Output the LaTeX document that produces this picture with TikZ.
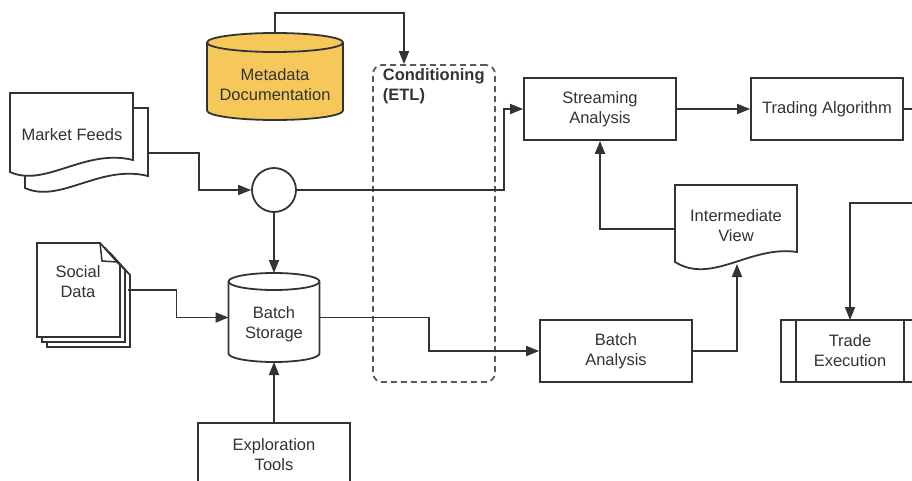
\documentclass[tikz,border=0pt]{standalone}
\usepackage{fontspec}
\setmainfont{Liberation Sans}
\usetikzlibrary{arrows.meta,calc}
\definecolor{ink}{RGB}{51,51,51}
\definecolor{metafill}{RGB}{246,200,90}
\definecolor{etlgray}{RGB}{90,90,90}
\begin{document}
\begin{tikzpicture}[x=1pt,y=-1pt,
  line width=1.8pt, color=ink, line join=miter,
  arr/.style={-{Triangle[length=13pt,width=10pt]}},
  txt/.style={align=center, inner sep=0pt, font=\fontsize{16.5}{20}\selectfont},
  box/.style={draw, fill=white, minimum width=152pt, minimum height=62pt, txt},
  port/.style={inner sep=0pt, outer sep=0pt, draw=none}]
\path[use as bounding box] (0,0) rectangle (912,481);
\clip (0,0) rectangle (912,481);

% ---------- shapes ----------
% Market feeds: two stacked documents
\draw[fill=white] (25,108) -- (148,108) -- (148,176)
  .. controls (100,164) and (60,204) .. (25,188) -- cycle;
\draw[fill=white] (10,93) -- (133,93) -- (133,160)
  .. controls (85,148) and (45,188) .. (10,172) -- cycle;

% Social data: three stacked pages with folded corner
\foreach \d in {10,5,0}
  \draw[fill=white] ({37+\d},{243+\d}) -- ({100+\d},{243+\d}) -- ({120+\d},{265+\d})
    -- ({120+\d},{337+\d}) -- ({37+\d},{337+\d}) -- cycle;
\draw[line width=1.5pt] (100,243) -- (102,261) -- (117,262);

% Metadata store (cylinder)
\draw[fill=metafill] (207,42.5) -- (207,110.5)
  arc[start angle=180,end angle=0,x radius=68,y radius=9.5] -- (343,42.5)
  arc[start angle=0,end angle=-180,x radius=68,y radius=9.5] -- cycle;
\draw (207,42.5) arc[start angle=180,end angle=0,x radius=68,y radius=9.5];

% Batch storage (cylinder)
\draw[fill=white] (228.5,281.5) -- (228.5,353.5)
  arc[start angle=180,end angle=0,x radius=45.5,y radius=8.5] -- (319.5,281.5)
  arc[start angle=0,end angle=-180,x radius=45.5,y radius=8.5] -- cycle;
\draw (228.5,281.5) arc[start angle=180,end angle=0,x radius=45.5,y radius=8.5];

% Intermediate view (document)
\draw[fill=white] (675,185) -- (797,185) -- (797,252)
  .. controls (750,245) and (712,285) .. (675,262) -- cycle;

% Trade execution (predefined process)
\draw[fill=white] (781,320) rectangle (925,382);
\draw (796,320) -- (796,382);
\draw (904,320) -- (904,382);

% ---------- nodes ----------
\node[port, minimum width=136pt, minimum height=87pt] (meta) at (275,76.5) {};
\node[txt] (metatxt) at (275,85) {Metadata\\Documentation};

\node[draw=etlgray, dash pattern=on 6pt off 4pt, rounded corners=9pt,
      minimum width=122pt, minimum height=317pt, inner sep=0pt] (etl) at (434,223.5) {};
\node[txt, anchor=west, align=left] (etltxt) at (382,86) {\bfseries Conditioning\\\bfseries (ETL)};

\node[port, minimum width=123pt, minimum height=82pt] (mf) at (71.5,134) {};
\node[txt] (mftxt) at (72,135) {Market Feeds};
\coordinate (mfout) at ($(mf.east)+(15,19)$);

\node[draw, circle, fill=white, minimum size=44pt, inner sep=0pt] (mix) at (274,190) {};

\node[box] (stream) at (600,109) {Streaming\\Analysis};
\node[box] (algo) at (827,109) {Trading Algorithm};
\node[box] (ba) at (616,351) {Batch\\Analysis};

\node[port, minimum width=122pt, minimum height=82pt] (iv) at (736,226) {};
\node[txt] (ivtxt) at (736,226) {Intermediate\\View};

\node[port, txt, minimum width=108pt, minimum height=62pt] (te) at (850,351) {Trade\\Execution};
\coordinate (tein) at (915,203);

\node[port, minimum width=83pt, minimum height=94pt] (sd) at (78.5,290) {};
\node[txt] (sdtxt) at (78,282) {Social\\Data};

\node[port, minimum width=91pt, minimum height=89pt] (bs) at (274,317.5) {};
\node[txt] (bstxt) at (274,324) {Batch\\Storage};

\node[draw, fill=white, minimum width=152pt, minimum height=64pt, txt] (ex) at (274,455) {Exploration\\Tools};

% ---------- connectors ----------
\draw[arr] (meta.north) -- ++(0,-20) -| ([xshift=-30pt]etl.north);
\draw[arr] (mfout) -| ($(mix.west)+(-52,0)$) -- (mix.west);
\draw[arr] (mix.east) -| ($(stream.west)+(-19,0)$) -- (stream.west);
\draw[arr] (mix.south) -- (bs.north);
\draw[arr] (stream.east) -- (algo.west);
\draw (algo.east) -- ++(20,0);
\draw[arr] ([yshift=-3pt]iv.west) -| (stream.south);
\draw[arr] (ba.east) -| ($(iv.south)+(1,-3)$);
\draw[arr] ($(sd.east)+(8,0)$) -| ($(bs.west)+(-52,0)$) -- (bs.west);
\draw[arr] (bs.east) -| ($(ba.west)+(-110,0)$) -- (ba.west);
\draw[arr] (ex.north) -- (bs.south);
\draw[arr] (tein) -| (te.north);
\end{tikzpicture}
\end{document}
